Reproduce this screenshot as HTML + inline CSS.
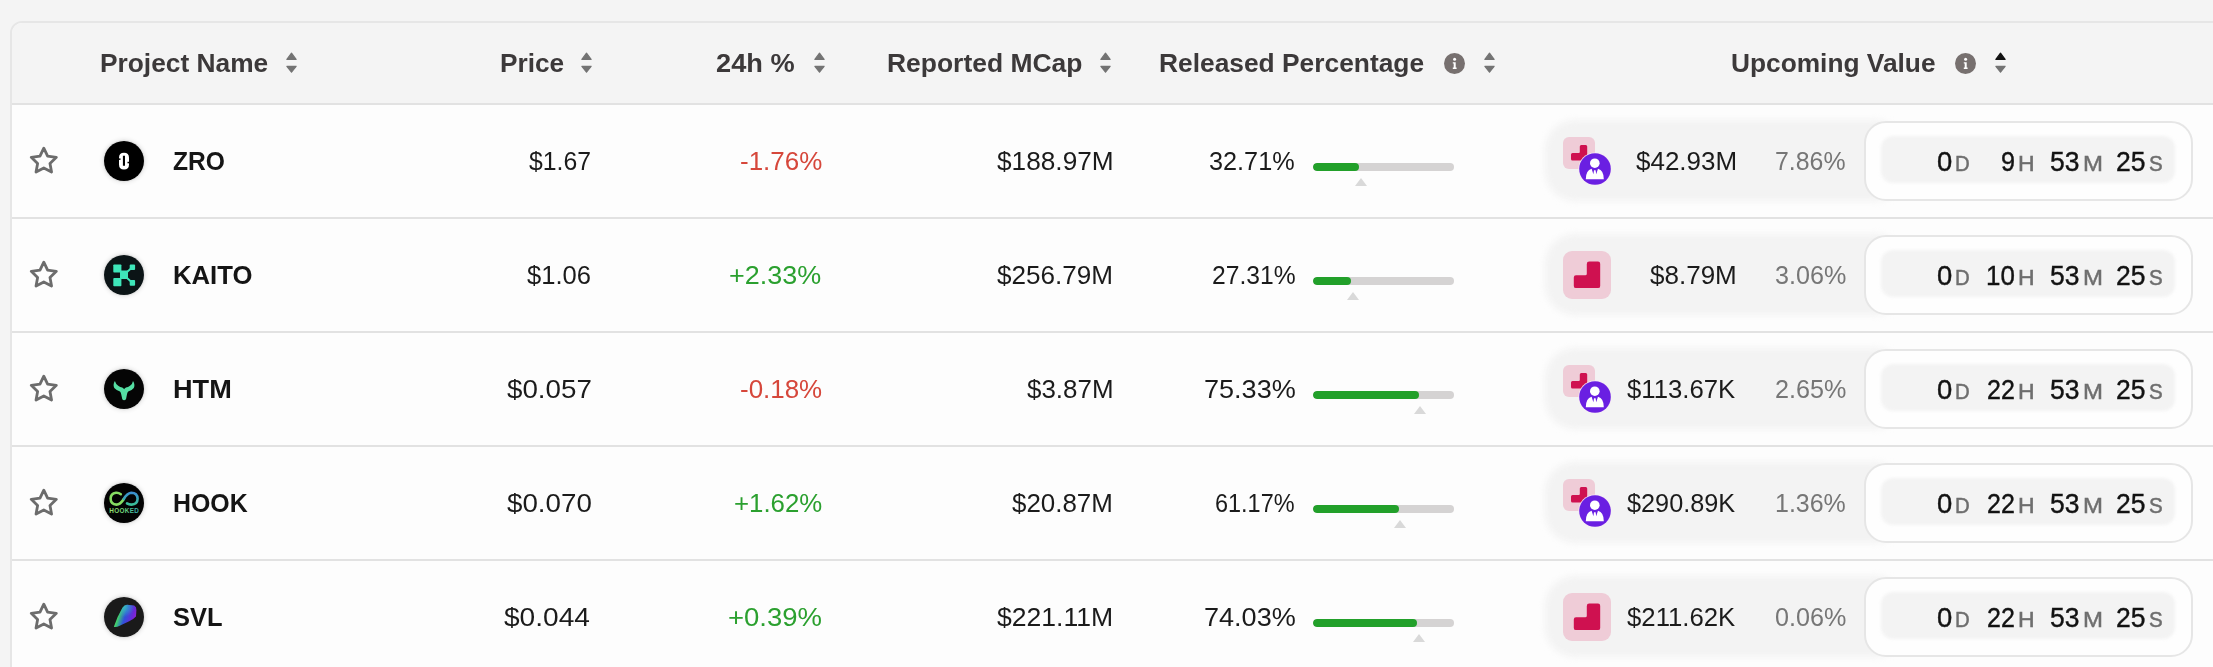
<!DOCTYPE html>
<html><head><meta charset="utf-8"><style>
html,body{margin:0;padding:0;}
body{width:2213px;height:667px;overflow:hidden;background:#f4f4f4;position:relative;font-family:"Liberation Sans",sans-serif;}
.t{position:absolute;white-space:nowrap;}
.ar{position:absolute;display:block;}
.coin{position:absolute;width:40px;height:40px;border-radius:50%;box-shadow:0 0 0 1.2px #e4e4e4,0 0 4px 1.5px rgba(0,0,0,0.10);}
.coin svg{display:block;}
.tbl{position:absolute;left:10px;top:21px;width:2300px;height:700px;border:2px solid #e6e6e6;border-radius:12px 0 0 0;background:#fdfdfd;overflow:hidden;box-sizing:border-box;}
.hdr{position:absolute;left:0;top:0;right:0;height:80px;background:#f4f4f4;border-bottom:2px solid #e2e2e2;}
.sep{position:absolute;left:12px;width:2300px;height:2px;background:#e2e2e2;}
.bar{position:absolute;height:8px;border-radius:4px;background:#d5d3d3;overflow:hidden;}
.fill{position:absolute;left:0;top:0;bottom:0;border-radius:4px;background:#22a02a;}
.tri{position:absolute;width:0;height:0;border-left:6.5px solid transparent;border-right:6.5px solid transparent;border-bottom:8px solid #d9d9d9;}
.pill{position:absolute;height:81px;border-radius:30px;background:#f3f3f3;filter:blur(3px);}
.cd{position:absolute;width:325px;height:75.5px;border:2px solid #e6e6e6;border-radius:22px;background:#fefefe;box-sizing:content-box;}
.cdin{position:absolute;border-radius:12px;background:#f3f3f3;filter:blur(1.8px);}
.num{-webkit-text-stroke:0.4px #121212;}
.unit{-webkit-text-stroke:0.5px #6e6e6e;}
</style></head><body>
<div class="tbl"><div class="hdr"></div></div>
<div class="sep" style="top:216.7px"></div>
<div class="sep" style="top:330.7px"></div>
<div class="sep" style="top:444.7px"></div>
<div class="sep" style="top:558.7px"></div>
<svg class="ar" style="left:285.5px;top:52px" width="11" height="22" viewBox="0 0 11 22"><path d="M5.5 1.2 L10.1 7.4 L0.9 7.4 Z" fill="#737373" stroke="#737373" stroke-width="1.2" stroke-linejoin="round"/><path d="M5.5 20.2 L10.1 14.3 L0.9 14.3 Z" fill="#737373" stroke="#737373" stroke-width="1.2" stroke-linejoin="round"/></svg>
<svg class="ar" style="left:580.5px;top:52px" width="11" height="22" viewBox="0 0 11 22"><path d="M5.5 1.2 L10.1 7.4 L0.9 7.4 Z" fill="#737373" stroke="#737373" stroke-width="1.2" stroke-linejoin="round"/><path d="M5.5 20.2 L10.1 14.3 L0.9 14.3 Z" fill="#737373" stroke="#737373" stroke-width="1.2" stroke-linejoin="round"/></svg>
<svg class="ar" style="left:813.5px;top:52px" width="11" height="22" viewBox="0 0 11 22"><path d="M5.5 1.2 L10.1 7.4 L0.9 7.4 Z" fill="#737373" stroke="#737373" stroke-width="1.2" stroke-linejoin="round"/><path d="M5.5 20.2 L10.1 14.3 L0.9 14.3 Z" fill="#737373" stroke="#737373" stroke-width="1.2" stroke-linejoin="round"/></svg>
<svg class="ar" style="left:1099.5px;top:52px" width="11" height="22" viewBox="0 0 11 22"><path d="M5.5 1.2 L10.1 7.4 L0.9 7.4 Z" fill="#737373" stroke="#737373" stroke-width="1.2" stroke-linejoin="round"/><path d="M5.5 20.2 L10.1 14.3 L0.9 14.3 Z" fill="#737373" stroke="#737373" stroke-width="1.2" stroke-linejoin="round"/></svg>
<svg class="ar" style="left:1443.5px;top:52.5px" width="21" height="21" viewBox="0 0 21 21"><circle cx="10.5" cy="10.5" r="10.5" fill="#77706f"/><circle cx="10.6" cy="6.2" r="1.5" fill="#fff"/><path d="M8.8 9.2 H11.7 V14.5 H12.6 V15.9 H8.8 V14.5 H9.7 V10.5 H8.8 Z" fill="#fff"/></svg>
<svg class="ar" style="left:1483.5px;top:52px" width="11" height="22" viewBox="0 0 11 22"><path d="M5.5 1.2 L10.1 7.4 L0.9 7.4 Z" fill="#737373" stroke="#737373" stroke-width="1.2" stroke-linejoin="round"/><path d="M5.5 20.2 L10.1 14.3 L0.9 14.3 Z" fill="#737373" stroke="#737373" stroke-width="1.2" stroke-linejoin="round"/></svg>
<svg class="ar" style="left:1954.5px;top:52.5px" width="21" height="21" viewBox="0 0 21 21"><circle cx="10.5" cy="10.5" r="10.5" fill="#77706f"/><circle cx="10.6" cy="6.2" r="1.5" fill="#fff"/><path d="M8.8 9.2 H11.7 V14.5 H12.6 V15.9 H8.8 V14.5 H9.7 V10.5 H8.8 Z" fill="#fff"/></svg>
<svg class="ar" style="left:1994.8px;top:52px" width="11" height="22" viewBox="0 0 11 22"><path d="M5.5 1.2 L10.1 7.4 L0.9 7.4 Z" fill="#111" stroke="#111" stroke-width="1.2" stroke-linejoin="round"/><path d="M5.5 20.2 L10.1 14.3 L0.9 14.3 Z" fill="#737373" stroke="#737373" stroke-width="1.2" stroke-linejoin="round"/></svg>
<svg class="ar" style="left:24px;top:140px" width="40" height="40" viewBox="0 0 40 40"><path d="M19.80 8.20 L23.62 16.14 L32.35 17.32 L25.98 23.41 L27.56 32.08 L19.80 27.90 L12.04 32.08 L13.62 23.41 L7.25 17.32 L15.98 16.14 Z" fill="none" stroke="#6c6c6c" stroke-width="2.8" stroke-linejoin="round"/></svg>
<div class="coin" style="left:104px;top:141px"><svg width="40" height="40" viewBox="0 0 40 40"><circle cx="20" cy="20" r="20" fill="#000"/><path fill-rule="evenodd" d="M20 11.7 Q25 11.7 25 16.7 V23.4 Q25 28.4 20 28.4 Q15 28.4 15 23.4 V16.7 Q15 11.7 20 11.7 Z M18.9 14.7 H21 V24.8 H18.9 Z" fill="#fff"/><rect x="14.5" y="17.4" width="2" height="1.5" fill="#000"/><rect x="23.5" y="20.8" width="2" height="1.5" fill="#000"/></svg></div>
<div class="bar" style="left:1313px;top:163px;width:140.5px"><div class="fill" style="width:46.0px"></div></div>
<div class="tri" style="left:1354.5px;top:177.5px"></div>
<div class="pill" style="left:1545px;top:119.5px;width:360px"></div>
<svg class="ar" style="left:1563px;top:137px" width="48" height="48" viewBox="0 0 48 48"><rect x="0" y="0" width="32" height="32" rx="6" fill="#efccd7"/><path d="M18.3 8 H22.7 Q24.2 8 24.2 9.5 V23.5 H9.5 Q8 23.5 8 22 V17.5 Q8 16 9.5 16 H15.8 Q16.8 16 16.8 15 V9.5 Q16.8 8 18.3 8 Z" fill="#cf1150"/><circle cx="32" cy="32" r="16.6" fill="#f6e8f4"/><circle cx="32" cy="32" r="15.8" fill="#6a1fe2"/><circle cx="31.8" cy="26.2" r="4.8" fill="#fff"/><path d="M22.8 42.2 Q22.8 33.4 28.6 31.8 L30.4 37.2 L31 33.2 L32.6 33.2 L33.2 37.2 L35 31.8 Q40.8 33.4 40.8 42.2 Z" fill="#fff"/></svg>
<div class="cd" style="left:1864px;top:121px"></div>
<div class="cdin" style="left:1881px;top:136px;width:294px;height:47px"></div>
<svg class="ar" style="left:24px;top:254px" width="40" height="40" viewBox="0 0 40 40"><path d="M19.80 8.20 L23.62 16.14 L32.35 17.32 L25.98 23.41 L27.56 32.08 L19.80 27.90 L12.04 32.08 L13.62 23.41 L7.25 17.32 L15.98 16.14 Z" fill="none" stroke="#6c6c6c" stroke-width="2.8" stroke-linejoin="round"/></svg>
<div class="coin" style="left:104px;top:255px"><svg width="40" height="40" viewBox="0 0 40 40"><circle cx="20" cy="20" r="20" fill="#0b1416"/><g fill="#3ee6b9"><rect x="9.3" y="9.4" width="8.1" height="8.1" rx="0.8"/><rect x="9.3" y="23.1" width="8.1" height="8.1" rx="0.8"/><rect x="16" y="15.6" width="8" height="8.4" rx="0.8"/><rect x="25.7" y="9.4" width="5.4" height="5.6" rx="1"/><rect x="25.7" y="24.9" width="5.4" height="5.8" rx="1"/></g><path d="M22.5 17.5 L27.5 13 M22.5 22.5 L27.5 27" stroke="#3ee6b9" stroke-width="1.8"/></svg></div>
<div class="bar" style="left:1313px;top:277px;width:140.5px"><div class="fill" style="width:38.4px"></div></div>
<div class="tri" style="left:1346.9px;top:291.5px"></div>
<div class="pill" style="left:1545px;top:233.5px;width:360px"></div>
<svg class="ar" style="left:1563px;top:251px" width="48" height="48" viewBox="0 0 48 48"><rect x="0" y="0" width="48" height="48" rx="9" fill="#efccd7"/><path d="M26.2 10.5 H35 Q37.2 10.5 37.2 12.7 V34.9 Q37.2 37.1 35 37.1 H13 Q10.8 37.1 10.8 34.9 V26.4 Q10.8 24.2 13 24.2 H22.3 Q23.8 24.2 23.8 22.7 V12.9 Q23.8 10.5 26.2 10.5 Z" fill="#cf1150"/></svg>
<div class="cd" style="left:1864px;top:235px"></div>
<div class="cdin" style="left:1881px;top:250px;width:294px;height:47px"></div>
<svg class="ar" style="left:24px;top:368px" width="40" height="40" viewBox="0 0 40 40"><path d="M19.80 8.20 L23.62 16.14 L32.35 17.32 L25.98 23.41 L27.56 32.08 L19.80 27.90 L12.04 32.08 L13.62 23.41 L7.25 17.32 L15.98 16.14 Z" fill="none" stroke="#6c6c6c" stroke-width="2.8" stroke-linejoin="round"/></svg>
<div class="coin" style="left:104px;top:369px"><svg width="40" height="40" viewBox="0 0 40 40"><defs><filter id="gl" x="-50%" y="-50%" width="200%" height="200%"><feGaussianBlur stdDeviation="0.6"/></filter></defs><circle cx="20" cy="20" r="20" fill="#050505"/><path filter="url(#gl)" d="M10.9 12.0 Q8.6 15.8 10.3 19.0 Q12.6 21.6 16.0 22.4 Q17 23.6 17.2 25.2 L18.3 30.2 Q19.9 32.4 22.0 30.2 L23.0 25.2 Q23.2 23.6 24.2 22.4 Q27.8 21.6 29.8 19.0 Q31.4 15.8 29.0 12.0 Q28.6 14.8 26.0 16.8 Q24.0 18.2 22.0 18.6 Q20.7 19.2 20.1 20.2 Q19.5 19.2 18.2 18.6 Q16.2 18.2 14.2 16.8 Q11.6 14.8 10.9 12.0 Z" fill="#55dea3"/></svg></div>
<div class="bar" style="left:1313px;top:391px;width:140.5px"><div class="fill" style="width:105.8px"></div></div>
<div class="tri" style="left:1414.3px;top:405.5px"></div>
<div class="pill" style="left:1545px;top:347.5px;width:360px"></div>
<svg class="ar" style="left:1563px;top:365px" width="48" height="48" viewBox="0 0 48 48"><rect x="0" y="0" width="32" height="32" rx="6" fill="#efccd7"/><path d="M18.3 8 H22.7 Q24.2 8 24.2 9.5 V23.5 H9.5 Q8 23.5 8 22 V17.5 Q8 16 9.5 16 H15.8 Q16.8 16 16.8 15 V9.5 Q16.8 8 18.3 8 Z" fill="#cf1150"/><circle cx="32" cy="32" r="16.6" fill="#f6e8f4"/><circle cx="32" cy="32" r="15.8" fill="#6a1fe2"/><circle cx="31.8" cy="26.2" r="4.8" fill="#fff"/><path d="M22.8 42.2 Q22.8 33.4 28.6 31.8 L30.4 37.2 L31 33.2 L32.6 33.2 L33.2 37.2 L35 31.8 Q40.8 33.4 40.8 42.2 Z" fill="#fff"/></svg>
<div class="cd" style="left:1864px;top:349px"></div>
<div class="cdin" style="left:1881px;top:364px;width:294px;height:47px"></div>
<svg class="ar" style="left:24px;top:482px" width="40" height="40" viewBox="0 0 40 40"><path d="M19.80 8.20 L23.62 16.14 L32.35 17.32 L25.98 23.41 L27.56 32.08 L19.80 27.90 L12.04 32.08 L13.62 23.41 L7.25 17.32 L15.98 16.14 Z" fill="none" stroke="#6c6c6c" stroke-width="2.8" stroke-linejoin="round"/></svg>
<div class="coin" style="left:104px;top:483px"><svg width="40" height="40" viewBox="0 0 40 40"><defs><linearGradient id="hg" x1="0" x2="1"><stop offset="0" stop-color="#9be06a"/><stop offset="0.5" stop-color="#6cd57a"/><stop offset="1" stop-color="#2fa7b8"/></linearGradient><linearGradient id="hg2" x1="0" y1="0" x2="0" y2="1"><stop offset="0" stop-color="#3b8fd0"/><stop offset="1" stop-color="#3bbf98"/></linearGradient></defs><circle cx="20" cy="20" r="20" fill="#030303"/><path d="M16.8 11.2 Q14.6 9.6 12 9.8 Q6.6 10.6 6.6 15.8 Q6.8 21.4 12.4 21.6 Q16.4 21.6 19.8 16" fill="none" stroke="#86dd62" stroke-width="2.6" stroke-linecap="round"/><path d="M19.8 16 Q23 10.4 27.2 9.8 Q33.4 9.8 33.6 15.8 Q33.4 21.6 27.4 21.6 Q24.8 21.6 23 20.4" fill="none" stroke="url(#hg2)" stroke-width="2.6" stroke-linecap="round"/><text x="20.2" y="29.8" text-anchor="middle" font-family="Liberation Sans" font-weight="700" font-size="6.4" fill="url(#hg)" letter-spacing="0.35" textLength="30" lengthAdjust="spacingAndGlyphs">HOOKED</text></svg></div>
<div class="bar" style="left:1313px;top:505px;width:140.5px"><div class="fill" style="width:85.9px"></div></div>
<div class="tri" style="left:1394.4px;top:519.5px"></div>
<div class="pill" style="left:1545px;top:461.5px;width:360px"></div>
<svg class="ar" style="left:1563px;top:479px" width="48" height="48" viewBox="0 0 48 48"><rect x="0" y="0" width="32" height="32" rx="6" fill="#efccd7"/><path d="M18.3 8 H22.7 Q24.2 8 24.2 9.5 V23.5 H9.5 Q8 23.5 8 22 V17.5 Q8 16 9.5 16 H15.8 Q16.8 16 16.8 15 V9.5 Q16.8 8 18.3 8 Z" fill="#cf1150"/><circle cx="32" cy="32" r="16.6" fill="#f6e8f4"/><circle cx="32" cy="32" r="15.8" fill="#6a1fe2"/><circle cx="31.8" cy="26.2" r="4.8" fill="#fff"/><path d="M22.8 42.2 Q22.8 33.4 28.6 31.8 L30.4 37.2 L31 33.2 L32.6 33.2 L33.2 37.2 L35 31.8 Q40.8 33.4 40.8 42.2 Z" fill="#fff"/></svg>
<div class="cd" style="left:1864px;top:463px"></div>
<div class="cdin" style="left:1881px;top:478px;width:294px;height:47px"></div>
<svg class="ar" style="left:24px;top:596px" width="40" height="40" viewBox="0 0 40 40"><path d="M19.80 8.20 L23.62 16.14 L32.35 17.32 L25.98 23.41 L27.56 32.08 L19.80 27.90 L12.04 32.08 L13.62 23.41 L7.25 17.32 L15.98 16.14 Z" fill="none" stroke="#6c6c6c" stroke-width="2.8" stroke-linejoin="round"/></svg>
<div class="coin" style="left:104px;top:597px"><svg width="40" height="40" viewBox="0 0 40 40"><defs><linearGradient id="sg" x1="0" y1="0.35" x2="1" y2="0.65"><stop offset="0" stop-color="#cfdcc4"/><stop offset="0.22" stop-color="#3fd46a"/><stop offset="0.5" stop-color="#2f52da"/><stop offset="0.8" stop-color="#6a2ad8"/><stop offset="1" stop-color="#9a1ed0"/></linearGradient><radialGradient id="sc" cx="0.45" cy="0.1" r="0.45"><stop offset="0" stop-color="#38b8c8" stop-opacity="0.9"/><stop offset="1" stop-color="#38b8c8" stop-opacity="0"/></radialGradient><filter id="sb" x="-20%" y="-20%" width="140%" height="140%"><feGaussianBlur stdDeviation="0.5"/></filter></defs><circle cx="20" cy="20" r="20" fill="#1a1a1a"/><g filter="url(#sb)"><path d="M9.9 29.7 Q13 20 18.5 10.8 Q20.5 7.9 23 7.7 L30.2 8.6 Q32.6 10 32.4 13.1 L32 19.4 Q29 22.5 25.2 24.3 L16.2 28.4 Q12 30.6 9.9 29.7 Z" fill="url(#sg)"/><path d="M9.9 29.7 Q13 20 18.5 10.8 Q20.5 7.9 23 7.7 L30.2 8.6 Q32.6 10 32.4 13.1 L32 19.4 Q29 22.5 25.2 24.3 L16.2 28.4 Q12 30.6 9.9 29.7 Z" fill="url(#sc)"/></g></svg></div>
<div class="bar" style="left:1313px;top:619px;width:140.5px"><div class="fill" style="width:104.0px"></div></div>
<div class="tri" style="left:1412.5px;top:633.5px"></div>
<div class="pill" style="left:1545px;top:575.5px;width:360px"></div>
<svg class="ar" style="left:1563px;top:593px" width="48" height="48" viewBox="0 0 48 48"><rect x="0" y="0" width="48" height="48" rx="9" fill="#efccd7"/><path d="M26.2 10.5 H35 Q37.2 10.5 37.2 12.7 V34.9 Q37.2 37.1 35 37.1 H13 Q10.8 37.1 10.8 34.9 V26.4 Q10.8 24.2 13 24.2 H22.3 Q23.8 24.2 23.8 22.7 V12.9 Q23.8 10.5 26.2 10.5 Z" fill="#cf1150"/></svg>
<div class="cd" style="left:1864px;top:577px"></div>
<div class="cdin" style="left:1881px;top:592px;width:294px;height:47px"></div>
<div id="h_pn" class="t" style="left:100.39px;top:49.87px;font-size:26.5px;line-height:26.5px;color:#3c393a;font-weight:700;transform:scaleX(0.9929);transform-origin:0 0;">Project Name</div>
<div id="h_price" class="t" style="left:499.61px;top:49.87px;font-size:26.5px;line-height:26.5px;color:#3c393a;font-weight:700;transform:scaleX(0.9905);transform-origin:0 0;">Price</div>
<div id="h_24" class="t" style="left:715.99px;top:49.87px;font-size:26.5px;line-height:26.5px;color:#3c393a;font-weight:700;transform:scaleX(1.0263);transform-origin:0 0;">24h %</div>
<div id="h_mcap" class="t" style="left:887.39px;top:49.87px;font-size:26.5px;line-height:26.5px;color:#3c393a;font-weight:700;transform:scaleX(0.9979);transform-origin:0 0;">Reported MCap</div>
<div id="h_rel" class="t" style="left:1159.20px;top:49.87px;font-size:26.5px;line-height:26.5px;color:#3c393a;font-weight:700;transform:scaleX(0.9943);transform-origin:0 0;">Released Percentage</div>
<div id="h_up" class="t" style="left:1731.00px;top:49.87px;font-size:26.5px;line-height:26.5px;color:#3c393a;font-weight:700;transform:scaleX(0.9922);transform-origin:0 0;">Upcoming Value</div>
<div id="name0" class="t" style="left:173.20px;top:149.04px;font-size:25px;line-height:25px;color:#151515;font-weight:700;transform:scaleX(0.9846);transform-origin:0 0;">ZRO</div>
<div id="price0" class="t" style="left:528.78px;top:148.61px;font-size:25.5px;line-height:25.5px;color:#1b1b1b;font-weight:400;transform:scaleX(0.9719);transform-origin:0 0;">$1.67</div>
<div id="ch0" class="t" style="left:739.78px;top:148.61px;font-size:25.5px;line-height:25.5px;color:#d6473b;font-weight:400;transform:scaleX(1.0175);transform-origin:0 0;">-1.76%</div>
<div id="mcap0" class="t" style="left:996.79px;top:148.61px;font-size:25.5px;line-height:25.5px;color:#1b1b1b;font-weight:400;transform:scaleX(1.0286);transform-origin:0 0;">$188.97M</div>
<div id="rel0" class="t" style="left:1208.79px;top:148.61px;font-size:25.5px;line-height:25.5px;color:#1b1b1b;font-weight:400;transform:scaleX(0.9907);transform-origin:0 0;">32.71%</div>
<div id="amt0" class="t" style="left:1635.60px;top:148.61px;font-size:25.5px;line-height:25.5px;color:#1b1b1b;font-weight:400;transform:scaleX(1.0184);transform-origin:0 0;">$42.93M</div>
<div id="upct0" class="t" style="left:1775.20px;top:148.61px;font-size:25.5px;line-height:25.5px;color:#767676;font-weight:400;transform:scaleX(0.9750);transform-origin:0 0;">7.86%</div>
<div id="cd0d" class="t num" style="left:1936.78px;top:148.54px;font-size:27px;line-height:27px;color:#121212;font-weight:400;transform:scaleX(1.0143);transform-origin:0 0;">0</div>
<div id="cd0D" class="t unit" style="left:1955.46px;top:152.55px;font-size:22.5px;line-height:22.5px;color:#6e6e6e;font-weight:400;transform:scaleX(0.9067);transform-origin:0 0;">D</div>
<div id="cd0h1" class="t num" style="left:2001.19px;top:148.54px;font-size:27px;line-height:27px;color:#121212;font-weight:400;transform:scaleX(0.9333);transform-origin:0 0;">9</div>
<div id="cd0H" class="t unit" style="left:2017.97px;top:152.55px;font-size:22.5px;line-height:22.5px;color:#6e6e6e;font-weight:400;transform:scaleX(1.0214);transform-origin:0 0;">H</div>
<div id="cd0m" class="t num" style="left:2050.20px;top:148.54px;font-size:27px;line-height:27px;color:#121212;font-weight:400;transform:scaleX(0.9793);transform-origin:0 0;">53</div>
<div id="cd0M" class="t unit" style="left:2082.72px;top:152.55px;font-size:22.5px;line-height:22.5px;color:#6e6e6e;font-weight:400;transform:scaleX(1.0647);transform-origin:0 0;">M</div>
<div id="cd0s" class="t num" style="left:2116.01px;top:148.54px;font-size:27px;line-height:27px;color:#121212;font-weight:400;transform:scaleX(0.9828);transform-origin:0 0;">25</div>
<div id="cd0S" class="t unit" style="left:2149.23px;top:152.55px;font-size:22.5px;line-height:22.5px;color:#6e6e6e;font-weight:400;transform:scaleX(0.9143);transform-origin:0 0;">S</div>
<div id="name1" class="t" style="left:172.99px;top:263.04px;font-size:25px;line-height:25px;color:#151515;font-weight:700;transform:scaleX(1.0276);transform-origin:0 0;">KAITO</div>
<div id="price1" class="t" style="left:526.79px;top:262.61px;font-size:25.5px;line-height:25.5px;color:#1b1b1b;font-weight:400;transform:scaleX(1.0031);transform-origin:0 0;">$1.06</div>
<div id="ch1" class="t" style="left:729.37px;top:262.61px;font-size:25.5px;line-height:25.5px;color:#2ba02f;font-weight:400;transform:scaleX(1.0563);transform-origin:0 0;">+2.33%</div>
<div id="mcap1" class="t" style="left:997.39px;top:262.61px;font-size:25.5px;line-height:25.5px;color:#1b1b1b;font-weight:400;transform:scaleX(1.0232);transform-origin:0 0;">$256.79M</div>
<div id="rel1" class="t" style="left:1211.62px;top:262.61px;font-size:25.5px;line-height:25.5px;color:#1b1b1b;font-weight:400;transform:scaleX(0.9671);transform-origin:0 0;">27.31%</div>
<div id="amt1" class="t" style="left:1650.38px;top:262.61px;font-size:25.5px;line-height:25.5px;color:#1b1b1b;font-weight:400;transform:scaleX(1.0205);transform-origin:0 0;">$8.79M</div>
<div id="upct1" class="t" style="left:1775.21px;top:262.61px;font-size:25.5px;line-height:25.5px;color:#767676;font-weight:400;transform:scaleX(0.9859);transform-origin:0 0;">3.06%</div>
<div id="cd1d" class="t num" style="left:1936.78px;top:262.54px;font-size:27px;line-height:27px;color:#121212;font-weight:400;transform:scaleX(1.0143);transform-origin:0 0;">0</div>
<div id="cd1D" class="t unit" style="left:1955.46px;top:266.55px;font-size:22.5px;line-height:22.5px;color:#6e6e6e;font-weight:400;transform:scaleX(0.9067);transform-origin:0 0;">D</div>
<div id="cd1h2" class="t num" style="left:1986.04px;top:262.54px;font-size:27px;line-height:27px;color:#121212;font-weight:400;transform:scaleX(0.9586);transform-origin:0 0;">10</div>
<div id="cd1H" class="t unit" style="left:2017.97px;top:266.55px;font-size:22.5px;line-height:22.5px;color:#6e6e6e;font-weight:400;transform:scaleX(1.0214);transform-origin:0 0;">H</div>
<div id="cd1m" class="t num" style="left:2050.20px;top:262.54px;font-size:27px;line-height:27px;color:#121212;font-weight:400;transform:scaleX(0.9793);transform-origin:0 0;">53</div>
<div id="cd1M" class="t unit" style="left:2082.72px;top:266.55px;font-size:22.5px;line-height:22.5px;color:#6e6e6e;font-weight:400;transform:scaleX(1.0647);transform-origin:0 0;">M</div>
<div id="cd1s" class="t num" style="left:2116.01px;top:262.54px;font-size:27px;line-height:27px;color:#121212;font-weight:400;transform:scaleX(0.9828);transform-origin:0 0;">25</div>
<div id="cd1S" class="t unit" style="left:2149.23px;top:266.55px;font-size:22.5px;line-height:22.5px;color:#6e6e6e;font-weight:400;transform:scaleX(0.9143);transform-origin:0 0;">S</div>
<div id="name2" class="t" style="left:172.96px;top:377.04px;font-size:25px;line-height:25px;color:#151515;font-weight:700;transform:scaleX(1.0849);transform-origin:0 0;">HTM</div>
<div id="price2" class="t" style="left:506.58px;top:376.61px;font-size:25.5px;line-height:25.5px;color:#1b1b1b;font-weight:400;transform:scaleX(1.0883);transform-origin:0 0;">$0.057</div>
<div id="ch2" class="t" style="left:739.59px;top:376.61px;font-size:25.5px;line-height:25.5px;color:#d6473b;font-weight:400;transform:scaleX(1.0163);transform-origin:0 0;">-0.18%</div>
<div id="mcap2" class="t" style="left:1026.80px;top:376.61px;font-size:25.5px;line-height:25.5px;color:#1b1b1b;font-weight:400;transform:scaleX(1.0167);transform-origin:0 0;">$3.87M</div>
<div id="rel2" class="t" style="left:1203.55px;top:376.61px;font-size:25.5px;line-height:25.5px;color:#1b1b1b;font-weight:400;transform:scaleX(1.0612);transform-origin:0 0;">75.33%</div>
<div id="amt2" class="t" style="left:1626.79px;top:376.61px;font-size:25.5px;line-height:25.5px;color:#1b1b1b;font-weight:400;transform:scaleX(1.0093);transform-origin:0 0;">$113.67K</div>
<div id="upct2" class="t" style="left:1775.21px;top:376.61px;font-size:25.5px;line-height:25.5px;color:#767676;font-weight:400;transform:scaleX(0.9859);transform-origin:0 0;">2.65%</div>
<div id="cd2d" class="t num" style="left:1936.78px;top:376.54px;font-size:27px;line-height:27px;color:#121212;font-weight:400;transform:scaleX(1.0143);transform-origin:0 0;">0</div>
<div id="cd2D" class="t unit" style="left:1955.46px;top:380.55px;font-size:22.5px;line-height:22.5px;color:#6e6e6e;font-weight:400;transform:scaleX(0.9067);transform-origin:0 0;">D</div>
<div id="cd2h2" class="t num" style="left:1987.00px;top:376.54px;font-size:27px;line-height:27px;color:#121212;font-weight:400;transform:scaleX(0.9267);transform-origin:0 0;">22</div>
<div id="cd2H" class="t unit" style="left:2017.97px;top:380.55px;font-size:22.5px;line-height:22.5px;color:#6e6e6e;font-weight:400;transform:scaleX(1.0214);transform-origin:0 0;">H</div>
<div id="cd2m" class="t num" style="left:2050.20px;top:376.54px;font-size:27px;line-height:27px;color:#121212;font-weight:400;transform:scaleX(0.9793);transform-origin:0 0;">53</div>
<div id="cd2M" class="t unit" style="left:2082.72px;top:380.55px;font-size:22.5px;line-height:22.5px;color:#6e6e6e;font-weight:400;transform:scaleX(1.0647);transform-origin:0 0;">M</div>
<div id="cd2s" class="t num" style="left:2116.01px;top:376.54px;font-size:27px;line-height:27px;color:#121212;font-weight:400;transform:scaleX(0.9828);transform-origin:0 0;">25</div>
<div id="cd2S" class="t unit" style="left:2149.23px;top:380.55px;font-size:22.5px;line-height:22.5px;color:#6e6e6e;font-weight:400;transform:scaleX(0.9143);transform-origin:0 0;">S</div>
<div id="name3" class="t" style="left:173.00px;top:491.04px;font-size:25px;line-height:25px;color:#151515;font-weight:700;transform:scaleX(0.9947);transform-origin:0 0;">HOOK</div>
<div id="price3" class="t" style="left:506.58px;top:490.61px;font-size:25.5px;line-height:25.5px;color:#1b1b1b;font-weight:400;transform:scaleX(1.0883);transform-origin:0 0;">$0.070</div>
<div id="ch3" class="t" style="left:734.19px;top:490.61px;font-size:25.5px;line-height:25.5px;color:#2ba02f;font-weight:400;transform:scaleX(1.0116);transform-origin:0 0;">+1.62%</div>
<div id="mcap3" class="t" style="left:1012.39px;top:490.61px;font-size:25.5px;line-height:25.5px;color:#1b1b1b;font-weight:400;transform:scaleX(1.0163);transform-origin:0 0;">$20.87M</div>
<div id="rel3" class="t" style="left:1214.84px;top:490.61px;font-size:25.5px;line-height:25.5px;color:#1b1b1b;font-weight:400;transform:scaleX(0.9198);transform-origin:0 0;">61.17%</div>
<div id="amt3" class="t" style="left:1626.79px;top:490.61px;font-size:25.5px;line-height:25.5px;color:#1b1b1b;font-weight:400;transform:scaleX(0.9909);transform-origin:0 0;">$290.89K</div>
<div id="upct3" class="t" style="left:1775.22px;top:490.61px;font-size:25.5px;line-height:25.5px;color:#767676;font-weight:400;transform:scaleX(0.9789);transform-origin:0 0;">1.36%</div>
<div id="cd3d" class="t num" style="left:1936.78px;top:490.54px;font-size:27px;line-height:27px;color:#121212;font-weight:400;transform:scaleX(1.0143);transform-origin:0 0;">0</div>
<div id="cd3D" class="t unit" style="left:1955.46px;top:494.55px;font-size:22.5px;line-height:22.5px;color:#6e6e6e;font-weight:400;transform:scaleX(0.9067);transform-origin:0 0;">D</div>
<div id="cd3h2" class="t num" style="left:1987.00px;top:490.54px;font-size:27px;line-height:27px;color:#121212;font-weight:400;transform:scaleX(0.9267);transform-origin:0 0;">22</div>
<div id="cd3H" class="t unit" style="left:2017.97px;top:494.55px;font-size:22.5px;line-height:22.5px;color:#6e6e6e;font-weight:400;transform:scaleX(1.0214);transform-origin:0 0;">H</div>
<div id="cd3m" class="t num" style="left:2050.20px;top:490.54px;font-size:27px;line-height:27px;color:#121212;font-weight:400;transform:scaleX(0.9793);transform-origin:0 0;">53</div>
<div id="cd3M" class="t unit" style="left:2082.72px;top:494.55px;font-size:22.5px;line-height:22.5px;color:#6e6e6e;font-weight:400;transform:scaleX(1.0647);transform-origin:0 0;">M</div>
<div id="cd3s" class="t num" style="left:2116.01px;top:490.54px;font-size:27px;line-height:27px;color:#121212;font-weight:400;transform:scaleX(0.9828);transform-origin:0 0;">25</div>
<div id="cd3S" class="t unit" style="left:2149.23px;top:494.55px;font-size:22.5px;line-height:22.5px;color:#6e6e6e;font-weight:400;transform:scaleX(0.9143);transform-origin:0 0;">S</div>
<div id="name4" class="t" style="left:172.79px;top:605.04px;font-size:25px;line-height:25px;color:#151515;font-weight:700;transform:scaleX(1.0188);transform-origin:0 0;">SVL</div>
<div id="price4" class="t" style="left:504.25px;top:604.61px;font-size:25.5px;line-height:25.5px;color:#1b1b1b;font-weight:400;transform:scaleX(1.1013);transform-origin:0 0;">$0.044</div>
<div id="ch4" class="t" style="left:727.70px;top:604.61px;font-size:25.5px;line-height:25.5px;color:#2ba02f;font-weight:400;transform:scaleX(1.0779);transform-origin:0 0;">+0.39%</div>
<div id="mcap4" class="t" style="left:997.40px;top:604.61px;font-size:25.5px;line-height:25.5px;color:#1b1b1b;font-weight:400;transform:scaleX(1.0418);transform-origin:0 0;">$221.11M</div>
<div id="rel4" class="t" style="left:1203.55px;top:604.61px;font-size:25.5px;line-height:25.5px;color:#1b1b1b;font-weight:400;transform:scaleX(1.0612);transform-origin:0 0;">74.03%</div>
<div id="amt4" class="t" style="left:1626.79px;top:604.61px;font-size:25.5px;line-height:25.5px;color:#1b1b1b;font-weight:400;transform:scaleX(1.0093);transform-origin:0 0;">$211.62K</div>
<div id="upct4" class="t" style="left:1775.21px;top:604.61px;font-size:25.5px;line-height:25.5px;color:#767676;font-weight:400;transform:scaleX(0.9859);transform-origin:0 0;">0.06%</div>
<div id="cd4d" class="t num" style="left:1936.78px;top:604.54px;font-size:27px;line-height:27px;color:#121212;font-weight:400;transform:scaleX(1.0143);transform-origin:0 0;">0</div>
<div id="cd4D" class="t unit" style="left:1955.46px;top:608.55px;font-size:22.5px;line-height:22.5px;color:#6e6e6e;font-weight:400;transform:scaleX(0.9067);transform-origin:0 0;">D</div>
<div id="cd4h2" class="t num" style="left:1987.00px;top:604.54px;font-size:27px;line-height:27px;color:#121212;font-weight:400;transform:scaleX(0.9267);transform-origin:0 0;">22</div>
<div id="cd4H" class="t unit" style="left:2017.97px;top:608.55px;font-size:22.5px;line-height:22.5px;color:#6e6e6e;font-weight:400;transform:scaleX(1.0214);transform-origin:0 0;">H</div>
<div id="cd4m" class="t num" style="left:2050.20px;top:604.54px;font-size:27px;line-height:27px;color:#121212;font-weight:400;transform:scaleX(0.9793);transform-origin:0 0;">53</div>
<div id="cd4M" class="t unit" style="left:2082.72px;top:608.55px;font-size:22.5px;line-height:22.5px;color:#6e6e6e;font-weight:400;transform:scaleX(1.0647);transform-origin:0 0;">M</div>
<div id="cd4s" class="t num" style="left:2116.01px;top:604.54px;font-size:27px;line-height:27px;color:#121212;font-weight:400;transform:scaleX(0.9828);transform-origin:0 0;">25</div>
<div id="cd4S" class="t unit" style="left:2149.23px;top:608.55px;font-size:22.5px;line-height:22.5px;color:#6e6e6e;font-weight:400;transform:scaleX(0.9143);transform-origin:0 0;">S</div>
</body></html>
